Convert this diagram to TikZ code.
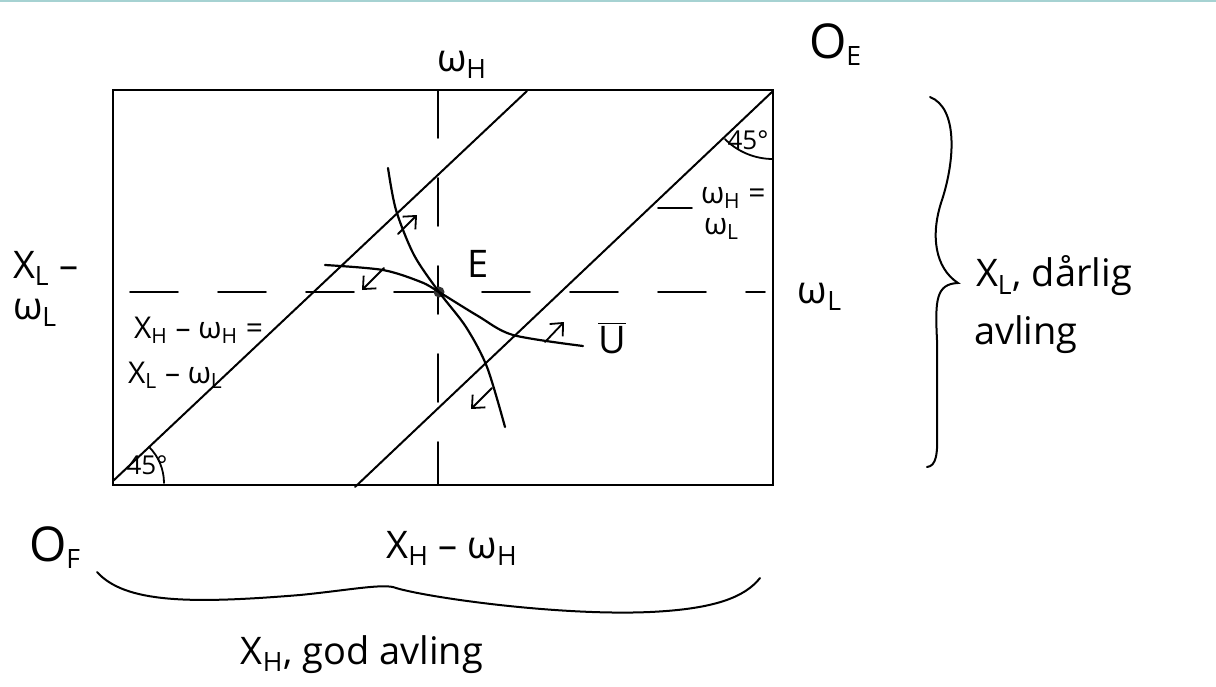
\documentclass[tikz,border=0pt]{standalone}
\usepackage{fontspec}
\setmainfont{Open Sans}
\usetikzlibrary{arrows.meta}
\newcommand\sbs[1]{\textsubscript{#1}}
\begin{document}
\begin{tikzpicture}[x=0.5pt,y=-0.5pt,line width=1pt,line cap=round,
  big/.style={font=\fontsize{19}{22}\selectfont,inner sep=0pt},
  mid/.style={font=\fontsize{15}{18}\selectfont,inner sep=0pt},
  small/.style={font=\fontsize{13}{15}\selectfont,inner sep=0pt},
  dashline/.style={line width=0.9pt,dash pattern=on 24pt off 20pt},
  arr/.style={line width=0.9pt,-{Straight Barb[length=5pt,width=9pt]}},
  curve/.style={line width=1.1pt}]
\useasboundingbox (0,0) rectangle (1216,686);
\fill[white] (0,0) rectangle (1216,686);
\draw[teal!35,line width=1pt] (0,1) -- (1216,1);
% box
\coordinate (OFc) at (113,485);
\coordinate (OEc) at (773,90);
\draw (OFc) rectangle (OEc);
% dashed endowment lines
\coordinate (vt) at (438,90);
\coordinate (vb) at (438,485);
\coordinate (hl) at (130,292);
\coordinate (hr) at (765,292);
\draw[dashline] (vt) -- (vb);
\draw[dashline] (hl) -- (hr);
% 45 degree lines
\coordinate (l1a) at (113,481);
\coordinate (l1b) at (527,91);
\coordinate (l2a) at (355,487);
\coordinate (l2b) at (773,91);
\draw (l1a) -- (l1b);
\draw (l2a) -- (l2b);
% angle arcs
\draw[line width=0.9pt] (164,483) arc[start angle=0,end angle=45,radius=25.5pt];
\draw[line width=0.9pt] ([shift={(225:34pt)}]773,91) arc[start angle=225,end angle=270,radius=34pt];
\node[small] (a45a) at (147,465) {45°};
\node[small] (a45b) at (748,140) {45°};
% endowment point E
\node[circle,fill=black!80,inner sep=0pt,minimum size=5.5pt] (Ept) at (439,292) {};
% indifference curves
\draw[curve] plot[smooth] coordinates {(388,168) (396,210) (414,255) (439,292) (466,327) (487,367) (505,427)};
\draw[curve] plot[smooth] coordinates {(325,265) (383,270) (421,282) (439,292) (478,316) (513,335) (583,346)};
% direction arrows
\draw[arr] (398,234) -- (417,215);
\draw[arr] (384,268) -- (362,290);
\draw[arr] (545,342) -- (564,322);
\draw[arr] (492,388) -- (471,409);
% labels
\node[big] (wH) at (462,65) {ω\sbs{H}};
\node[big,anchor=west] (OE) at (808,45) {{\fontsize{24}{26}\selectfont O}\sbs{E}};
\node[big,anchor=west] (XLm) at (12,268) {X\sbs{L} –};
\node[big,anchor=west] (wL1) at (12,313) {ω\sbs{L}};
\node[mid,anchor=west] (eq1) at (133,330) {X\sbs{H} – ω\sbs{H} =};
\node[mid,anchor=west] (eq2) at (127,375) {X\sbs{L} – ω\sbs{L}};
\node[mid,anchor=west] (eq3) at (700,198) {ω\sbs{H} =};
\node[mid,anchor=west] (eq4) at (703,229) {ω\sbs{L}};
\coordinate (dsa) at (658,208);
\coordinate (dsb) at (692,208);
\draw[line width=0.9pt] (dsa) -- (dsb);
\node[big] (Elab) at (478,264) {E};
\node[big] (Ubar) at (612,338) {$\overline{\mathrm{U}}$};
\node[big] (wL2) at (820,297) {ω\sbs{L}};
% right brace
\coordinate (rb1) at (930,97);
\coordinate (rbtip) at (958,283);
\coordinate (rb2) at (927,467);
\draw (rb1) .. controls (958,108) and (955,160) .. (942,200)
  .. controls (930,235) and (935,268) .. (rbtip)
  .. controls (936,284) and (935,300) .. (937,340)
  -- (937,430) .. controls (938,455) and (936,466) .. (rb2);
\node[big,anchor=west] (XLd) at (975,276) {X\sbs{L}, dårlig};
\node[big,anchor=west] (XLa) at (973,335) {avling};
% bottom labels
\node[big,anchor=west] (OF) at (28,548) {{\fontsize{24}{26}\selectfont O}\sbs{F}};
\node[big] (XHw) at (452,548) {X\sbs{H} – ω\sbs{H}};
% bottom brace
\coordinate (bb1) at (97,572);
\coordinate (bbtip) at (396,588);
\coordinate (bb2) at (760,578);
\draw (bb1) .. controls (125,603) and (190,604) .. (300,595)
  .. controls (350,590) and (385,583) .. (bbtip)
  .. controls (430,598) and (560,616) .. (650,612)
  .. controls (715,609) and (745,597) .. (bb2);
\node[big] (XHg) at (362,655) {X\sbs{H}, god avling};
\end{tikzpicture}
\end{document}
